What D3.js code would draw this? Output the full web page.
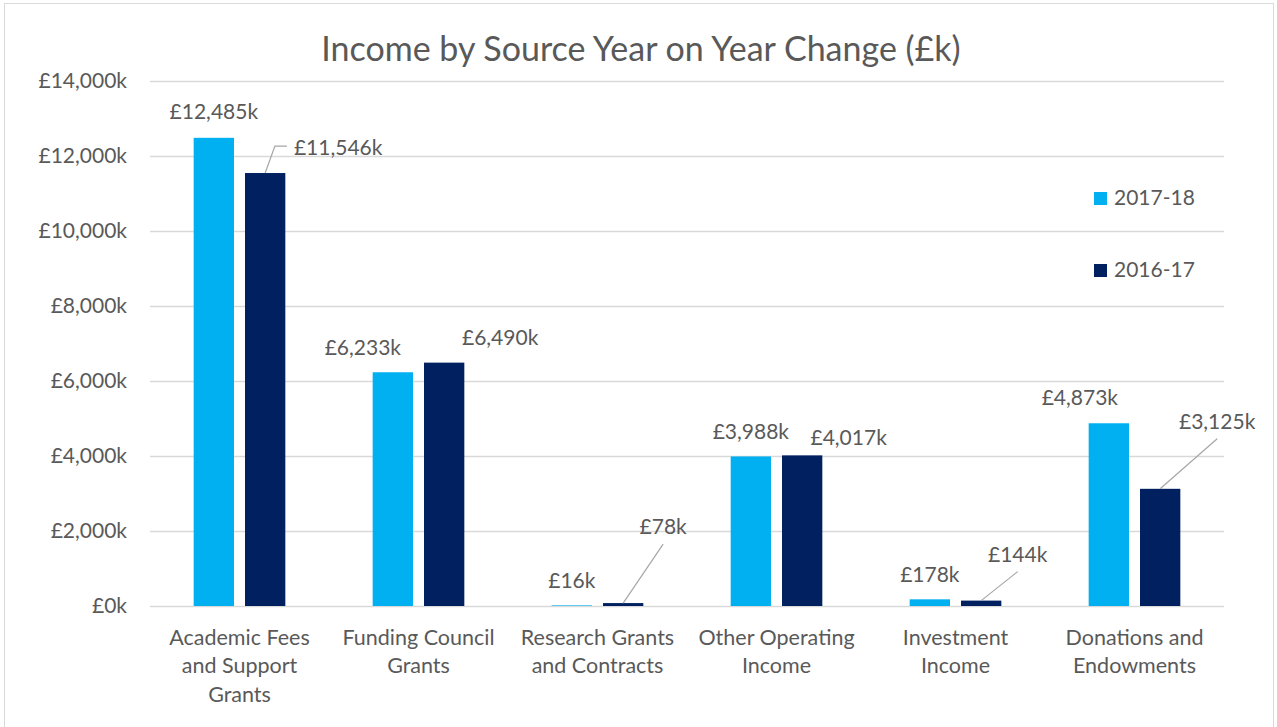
<!DOCTYPE html>
<html>
<head>
<meta charset="utf-8">
<script src="https://cdn.jsdelivr.net/npm/d3@7"></script>
<style>
  html, body { margin: 0; padding: 0; background: #ffffff; }
  svg { display: block; }
  text { font-family: Lato, "Open Sans", sans-serif; fill: #595959; }
</style>
</head>
<body>
<script>
// Income by source, in £ thousands
const categories = [
  "Academic Fees\nand Support\nGrants",
  "Funding Council\nGrants",
  "Research Grants\nand Contracts",
  "Other Operating\nIncome",
  "Investment\nIncome",
  "Donations and\nEndowments"
];
const seriesNames = ["2017-18", "2016-17"];
const income2017 = [12485, 6233, 16, 3988, 178, 4873];
const income2016 = [11546, 6490, 78, 4017, 144, 3125];
const yTicks = [0, 2000, 4000, 6000, 8000, 10000, 12000, 14000];

// Label nudges per series: horizontal shift and height of the baseline above the bar top
const labelNudge2017 = [[0, 18.5], [-30, 17.5], [0, 17], [0, 17.5], [0, 17], [-29, 18]];
const labelNudge2016 = [[73, 18], [56, 17.6], [40, 69], [46.5, 10.5], [36.5, 39], [57, 60]];
const leader2016 = ["elbow", null, "diag", null, "diag", "diag"];

const W = 1277, H = 727;
const colors = { "2017-18": "#00B0F0", "2016-17": "#002060" };
const fmt = v => "£" + d3.format(",")(v) + "k";
const numSize = "21px", catSize = "21.5px";

const svg = d3.select("body").append("svg").attr("width", W).attr("height", H);

// chart frame
svg.append("rect")
  .attr("x", 4.5).attr("y", 3.5).attr("width", 1269).attr("height", 740)
  .attr("fill", "#fff").attr("stroke", "#D9D9D9").attr("stroke-width", 1);

const plot = { left: 150, right: 1224, top: 81, bottom: 606 };

const y = d3.scaleLinear().domain([0, 14000]).range([plot.bottom, plot.top]);
const x0 = d3.scaleBand().domain(categories).range([plot.left, plot.right])
  .paddingInner(0.488).paddingOuter(0.244);
const x1 = d3.scaleBand().domain(seriesNames).range([0, x0.bandwidth()]).paddingInner(0.2144);

// title
svg.append("text")
  .attr("x", 641).attr("y", 61)
  .attr("text-anchor", "middle")
  .style("font-size", "34px")
  .text("Income by Source Year on Year Change (£k)");

// gridlines + value axis
const yAxis = d3.axisLeft(y).tickValues(yTicks).tickFormat(fmt)
  .tickSize(-(plot.right - plot.left)).tickPadding(23);
const gy = svg.append("g").attr("transform", `translate(${plot.left},0)`).call(yAxis);
gy.select(".domain").remove();
gy.selectAll(".tick line").attr("stroke", "#D9D9D9").attr("stroke-width", 1.5);
gy.selectAll(".tick text").style("font-size", numSize).attr("fill", "#595959");

// category axis labels
const gx = svg.append("g");
categories.forEach(c => {
  const t = gx.append("text")
    .attr("x", x0(c) + x0.bandwidth() / 2)
    .attr("y", 645)
    .attr("text-anchor", "middle")
    .style("font-size", catSize);
  c.split("\n").forEach((line, i) => {
    t.append("tspan").attr("x", x0(c) + x0.bandwidth() / 2)
      .attr("dy", i === 0 ? 0 : 28.4).text(line);
  });
});

// bars
const rows = categories.map((c, i) => ({
  cat: c,
  vals: [
    { s: "2017-18", v: income2017[i], nudge: labelNudge2017[i], leader: null },
    { s: "2016-17", v: income2016[i], nudge: labelNudge2016[i], leader: leader2016[i] }
  ]
}));

const groups = svg.append("g").selectAll("g").data(rows).join("g")
  .attr("transform", d => `translate(${x0(d.cat)},0)`);

groups.selectAll("rect").data(d => d.vals).join("rect")
  .attr("x", d => x1(d.s))
  .attr("y", d => y(d.v))
  .attr("width", x1.bandwidth())
  .attr("height", d => y(0) - y(d.v))
  .attr("fill", d => colors[d.s]);

// data labels and leader lines
const labelLayer = svg.append("g");
rows.forEach(r => {
  r.vals.forEach(d => {
    const bx = x0(r.cat) + x1(d.s) + x1.bandwidth() / 2;
    const by = y(d.v);
    const lx = bx + d.nudge[0];
    const ly = by - d.nudge[1];
    const t = labelLayer.append("text")
      .attr("x", lx).attr("y", ly)
      .attr("text-anchor", "middle")
      .style("font-size", numSize)
      .text(fmt(d.v));
    if (d.leader === "diag") {
      labelLayer.append("line")
        .attr("x1", bx).attr("y1", by)
        .attr("x2", lx).attr("y2", ly + 10)
        .attr("stroke", "#A6A6A6").attr("stroke-width", 1.2);
    } else if (d.leader === "elbow") {
      const w = t.node().getComputedTextLength();
      const ex = lx - w / 2 - 7, ey = ly - 9;
      labelLayer.append("polyline")
        .attr("points", `${bx},${by} ${ex - 12},${ey} ${ex},${ey}`)
        .attr("fill", "none")
        .attr("stroke", "#A6A6A6").attr("stroke-width", 1.2);
    }
  });
});

// legend
const legend = svg.append("g");
seriesNames.forEach((s, i) => {
  const gy0 = 192 + i * 72;
  legend.append("rect").attr("x", 1094).attr("y", gy0).attr("width", 13).attr("height", 13)
    .attr("fill", colors[s]);
  legend.append("text").attr("x", 1114).attr("y", gy0 + 13)
    .style("font-size", numSize).text(s);
});
</script>
</body>
</html>
